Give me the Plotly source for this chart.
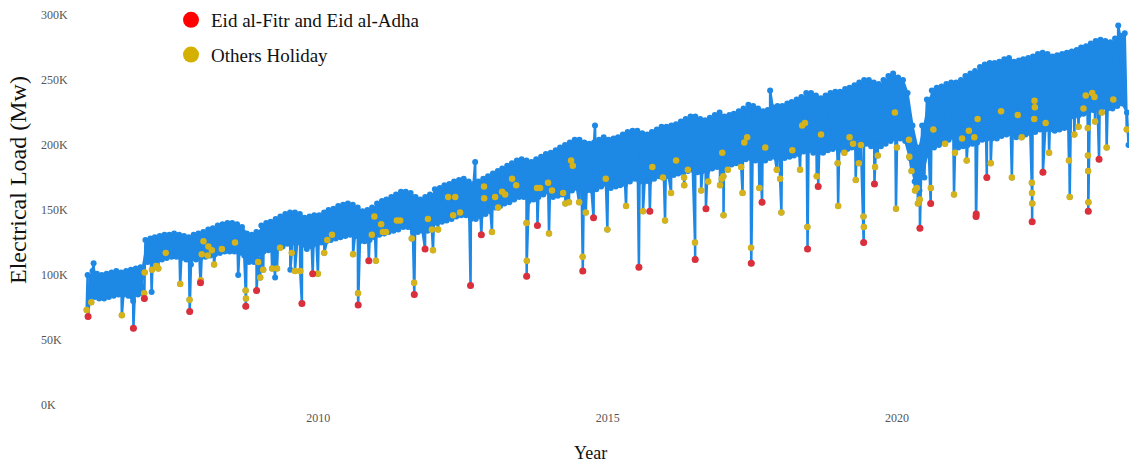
import pandas as pd
import plotly.graph_objects as go

# ---------------- data (values in thousand MW) ----------------
start_year = 2006
# monthly upper edge of the daily-load band, Jan..Dec for 2006..2023
band_high_k = [
    100, 103, 101, 100, 101, 102, 103, 102, 103, 104, 105, 106,  # 2006
    127, 128, 129, 130, 131, 131, 132, 131, 130, 129, 131, 132,  # 2007
    133, 135, 136, 138, 139, 140, 140, 139, 137, 132, 131, 133,  # 2008
    138, 140, 141, 143, 145, 147, 148, 148, 147, 144, 145, 146,  # 2009
    146, 148, 150, 151, 153, 154, 155, 154, 152, 149, 150, 152,  # 2010
    155, 157, 158, 160, 162, 164, 164, 163, 160, 158, 160, 162,  # 2011
    166, 167, 169, 170, 172, 173, 174, 172, 170, 172, 174, 176,  # 2012
    178, 180, 182, 184, 186, 188, 189, 188, 187, 189, 191, 193,  # 2013
    194, 196, 198, 200, 202, 204, 204, 202, 201, 202, 204, 206,  # 2014
    204, 205, 206, 208, 210, 211, 211, 209, 208, 210, 212, 214,  # 2015
    214, 215, 216, 218, 220, 222, 222, 220, 219, 221, 223, 225,  # 2016
    222, 223, 224, 226, 228, 231, 230, 228, 226, 227, 229, 230,  # 2017
    230, 232, 233, 235, 237, 240, 240, 238, 236, 238, 240, 241,  # 2018
    241, 243, 244, 246, 248, 250, 250, 248, 247, 250, 253, 255,  # 2019
    252, 250, 240, 215, 198, 215, 235, 242, 244, 245, 247, 248,  # 2020
    248, 250, 253, 255, 257, 260, 262, 263, 263, 264, 266, 267,  # 2021
    264, 265, 266, 267, 268, 270, 271, 270, 268, 269, 270, 271,  # 2022
    272, 273, 275, 276, 278, 280, 281, 280, 279, 282, 284, 286,  # 2023
]
# monthly lower edge of the band
band_low_k = [
    84, 83, 82, 82, 83, 84, 85, 85, 84, 80, 85, 86,              # 2006
    110, 111, 112, 112, 113, 114, 114, 113, 112, 108, 112, 113,  # 2007
    114, 115, 116, 117, 118, 118, 118, 117, 115, 110, 110, 112,  # 2008
    118, 119, 120, 121, 122, 124, 125, 125, 123, 120, 122, 124,  # 2009
    125, 126, 127, 128, 129, 130, 131, 130, 126, 126, 127, 129,  # 2010
    131, 132, 133, 134, 135, 137, 137, 133, 133, 134, 134, 136,  # 2011
    140, 141, 142, 143, 145, 146, 146, 143, 143, 145, 147, 149,  # 2012
    152, 153, 155, 156, 158, 160, 160, 157, 158, 160, 162, 164,  # 2013
    160, 161, 162, 163, 165, 167, 165, 165, 165, 166, 168, 170,  # 2014
    167, 168, 169, 170, 172, 174, 172, 172, 172, 174, 176, 178,  # 2015
    176, 177, 178, 179, 180, 181, 179, 180, 180, 182, 183, 184,  # 2016
    184, 185, 186, 187, 189, 190, 188, 188, 188, 190, 191, 192,  # 2017
    190, 191, 192, 193, 195, 196, 194, 194, 194, 196, 197, 198,  # 2018
    196, 197, 198, 199, 200, 201, 199, 199, 199, 201, 203, 205,  # 2019
    205, 203, 190, 172, 165, 175, 192, 198, 200, 202, 204, 206,  # 2020
    198, 199, 200, 201, 202, 204, 205, 205, 205, 207, 208, 209,  # 2021
    206, 207, 208, 209, 210, 212, 212, 212, 211, 212, 213, 214,  # 2022
    222, 223, 224, 225, 227, 229, 229, 228, 228, 230, 232, 225,  # 2023
]

# Eid al-Fitr and Eid al-Adha days
eid_dates = [
    "2006-01-10", "2006-10-23", "2006-12-31", "2007-10-13", "2007-12-20",
    "2008-10-01", "2008-12-08", "2009-09-20", "2009-11-27", "2010-09-10",
    "2010-11-16", "2011-08-30", "2011-11-06", "2012-08-19", "2012-10-26",
    "2013-08-08", "2013-10-15", "2014-07-28", "2014-10-04", "2015-07-17",
    "2015-09-24", "2016-07-06", "2016-09-12", "2017-06-25", "2017-09-01",
    "2018-06-15", "2018-08-21", "2019-06-04", "2019-08-11", "2020-05-24",
    "2020-07-31", "2021-05-13", "2021-05-14", "2021-07-20", "2022-05-02",
    "2022-07-09", "2023-04-21", "2023-06-28",
]
eid_k = [
    68, 59, 82, 72, 94, 76, 88, 78, 101, 77,
    111, 85, 120, 92, 131, 99, 138, 103, 144, 106,
    149, 112, 151, 109, 156, 120, 168, 125, 170, 136,
    155, 145, 147, 175, 141, 179, 149, 189,
]

# other holidays
other_dates = [
    "2006-01-01", "2006-01-30", "2006-08-11", "2006-12-30", "2007-01-02", "2007-02-17",
    "2007-03-18", "2007-03-29", "2007-05-15", "2007-08-14", "2007-10-12", "2007-12-22",
    "2007-12-28", "2008-01-08", "2008-02-04", "2008-02-08", "2008-03-01", "2008-03-15",
    "2008-05-03", "2008-07-25", "2008-09-30", "2008-10-02", "2008-12-18", "2008-12-31",
    "2009-01-19", "2009-03-16", "2009-04-16", "2009-05-05", "2009-07-18", "2009-08-07",
    "2009-09-09", "2009-12-30", "2010-02-08", "2010-02-27", "2010-03-29", "2010-08-09",
    "2010-09-09", "2010-12-05", "2010-12-21", "2010-12-31", "2011-02-02", "2011-02-13",
    "2011-03-04", "2011-05-12", "2011-06-02", "2011-08-14", "2011-08-29", "2011-11-24",
    "2011-12-19", "2011-12-26", "2012-01-27", "2012-03-31", "2012-05-01", "2012-05-14",
    "2012-06-14", "2012-11-12", "2012-11-13", "2013-01-01", "2013-01-21", "2013-02-09",
    "2013-03-06", "2013-03-25", "2013-05-08", "2013-06-03", "2013-08-07", "2013-08-09",
    "2013-10-12", "2013-11-01", "2013-12-21", "2013-12-27", "2014-01-15", "2014-03-26",
    "2014-04-09", "2014-05-02", "2014-05-15", "2014-05-26", "2014-07-05", "2014-07-27",
    "2014-08-16", "2014-12-20", "2014-12-30", "2015-04-27", "2015-08-12", "2015-10-10",
    "2015-12-16", "2015-12-29", "2016-02-05", "2016-03-08", "2016-04-27", "2016-04-28",
    "2016-05-21", "2016-07-05", "2016-08-13", "2016-09-26", "2016-12-10", "2016-12-21",
    "2016-12-24", "2016-12-31", "2017-01-01", "2017-01-28", "2017-04-22", "2017-05-01",
    "2017-05-12", "2017-05-30", "2017-06-24", "2017-08-15", "2017-09-21", "2017-12-03",
    "2017-12-24", "2018-01-01", "2018-03-11", "2018-04-29", "2018-05-12", "2018-05-30",
    "2018-06-14", "2018-08-12", "2018-09-08", "2018-12-22", "2018-12-25", "2019-02-02",
    "2019-03-07", "2019-03-29", "2019-04-15", "2019-05-05", "2019-05-18", "2019-06-03",
    "2019-06-05", "2019-08-15", "2019-09-01", "2019-12-18", "2019-12-25", "2019-12-31",
    "2020-03-16", "2020-03-18", "2020-04-01", "2020-04-23", "2020-05-05", "2020-05-11",
    "2020-05-23", "2020-08-01", "2020-08-17", "2020-10-30", "2020-12-25", "2020-12-31",
    "2021-02-14", "2021-03-15", "2021-03-29", "2021-05-02", "2021-05-23", "2021-08-14",
    "2021-10-18", "2021-12-25", "2022-01-31", "2022-02-25", "2022-04-30", "2022-05-01",
    "2022-05-03", "2022-05-15", "2022-05-17", "2022-05-19", "2022-07-26", "2022-08-17",
    "2022-12-20", "2022-12-25", "2023-01-23", "2023-02-18", "2023-03-22", "2023-04-05",
    "2023-04-18", "2023-04-19", "2023-04-20", "2023-04-22", "2023-05-16", "2023-05-30",
    "2023-06-03", "2023-07-15", "2023-08-15", "2023-09-26", "2023-12-20",
]
other_k = [
    73, 79, 69, 86, 102, 104,
    107, 105, 117, 93, 81, 96,
    116, 126, 115, 122, 119, 108,
    120, 125, 88, 82, 110, 98,
    104, 105, 105, 121, 117, 103,
    103, 101, 117, 127, 131, 116,
    86, 131, 145, 111, 139, 133,
    133, 142, 142, 128, 94, 143,
    135, 119, 135, 160, 146, 160,
    148, 168, 159, 133, 160, 152,
    164, 162, 174, 169, 140, 111,
    167, 167, 171, 132, 165, 163,
    155, 156, 188, 184, 156, 114,
    148, 174, 135, 153, 149, 183,
    175, 142, 163, 188, 175, 169,
    181, 125, 165, 172, 169, 174,
    194, 176, 146, 181, 183, 163,
    202, 206, 121, 167, 198, 181,
    174, 148, 196, 181, 215, 217,
    137, 176, 208, 186, 153, 194,
    206, 201, 173, 186, 200, 145,
    137, 183, 192, 225, 151, 198,
    204, 191, 180, 165, 167, 155,
    158, 167, 212, 201, 162, 194,
    205, 188, 211, 206, 220, 186,
    226, 175, 223, 206, 171, 163,
    155, 220, 234, 229, 217, 194,
    188, 160, 208, 214, 228, 238,
    213, 192, 180, 156, 240, 237,
    218, 225, 198, 235, 212,
]

# isolated non-holiday days that stand out of the band
extra_dates = ["2006-02-14", "2007-02-15", "2008-08-14", "2009-04-04", "2009-07-09",
               "2012-09-17", "2014-10-13", "2017-10-22", "2023-10-27", "2023-12-31"]
extra_k = [109, 87, 100, 98, 104, 187, 215, 242, 292, 200]

y_ticks = [0, 50, 100, 150, 200, 250, 300]
x_ticks = ["2010-01-01", "2015-01-01", "2020-01-01"]
x_tick_text = ["2010", "2015", "2020"]

# ---------------- build the daily series ----------------
band_dates, band_vals, mid_dates = [], [], []
for i, (hi, lo) in enumerate(zip(band_high_k, band_low_k)):
    yr, mo = start_year + i // 12, i % 12 + 1
    band_dates += [pd.Timestamp(yr, mo, 7), pd.Timestamp(yr, mo, 21)]
    band_vals += [hi * 1000, lo * 1000]
    mid_dates.append(pd.Timestamp(yr, mo, 14))

series = pd.DataFrame({
    "date": band_dates
    + list(pd.to_datetime(eid_dates))
    + list(pd.to_datetime(other_dates))
    + list(pd.to_datetime(extra_dates)),
    "load": band_vals
    + [v * 1000 for v in eid_k]
    + [v * 1000 for v in other_k]
    + [v * 1000 for v in extra_k],
}).sort_values("date", kind="stable")

BLUE = "#1e88e5"
RED_DOT = "#dc2f3c"
GOLD_DOT = "#d6b31a"
SERIF = "Liberation Serif, Times New Roman, serif"

fig = go.Figure()
# dense body of the daily band (area between the monthly edges)
fig.add_trace(go.Scatter(
    x=mid_dates, y=[v * 1000 for v in band_high_k], mode="lines",
    line=dict(color=BLUE, width=0), showlegend=False, hoverinfo="skip",
))
fig.add_trace(go.Scatter(
    x=mid_dates, y=[v * 1000 for v in band_low_k], mode="lines",
    line=dict(color=BLUE, width=0), fill="tonexty", fillcolor=BLUE,
    showlegend=False, hoverinfo="skip",
))
# daily load line
fig.add_trace(go.Scatter(
    x=series["date"], y=series["load"], mode="lines+markers",
    line=dict(color=BLUE, width=2.5), marker=dict(color=BLUE, size=6),
    showlegend=False, hoverinfo="skip",
))
fig.add_trace(go.Scatter(
    x=pd.to_datetime(other_dates), y=[v * 1000 for v in other_k], mode="markers",
    marker=dict(color=GOLD_DOT, size=6.5), showlegend=False,
))
fig.add_trace(go.Scatter(
    x=pd.to_datetime(eid_dates), y=[v * 1000 for v in eid_k], mode="markers",
    marker=dict(color=RED_DOT, size=7), showlegend=False,
))
# legend entries
fig.add_trace(go.Scatter(
    x=[None], y=[None], mode="markers", name="Eid al-Fitr and Eid al-Adha",
    marker=dict(color="#ff0000", size=16), legendgroup="a",
))
fig.add_trace(go.Scatter(
    x=[None], y=[None], mode="markers", name="Others Holiday",
    marker=dict(color="#d4b000", size=16), legendgroup="b",
))

L, R, T, B = 80, 0, 8, 61
W, H = 1129, 466
pw, ph = W - L - R, H - T - B
ymax = 397 / 1.3 * 1000

annotations = []
for v in y_ticks:
    annotations.append(dict(
        x=(39 - L) / pw, xref="paper", y=v * 1000, yref="y",
        text=f"{v}K", showarrow=False, xanchor="left", yanchor="middle",
        font=dict(family=SERIF, size=12, color="#555555"),
    ))
annotations.append(dict(
    x=(18 - L) / pw, xref="paper", y=(405 - 180) / ph, yref="paper",
    text="Electrical Load (Mw)", textangle=-90, showarrow=False,
    xanchor="center", yanchor="middle",
    font=dict(family=SERIF, size=24, color="#111111"),
))
annotations.append(dict(
    x=(590 - L) / pw, xref="paper", y=(405 - 453) / ph, yref="paper",
    text="Year", showarrow=False, xanchor="center", yanchor="middle",
    font=dict(family=SERIF, size=18, color="#111111"),
))

fig.update_layout(
    width=W, height=H, autosize=False,
    margin=dict(l=L, r=R, t=T, b=B, pad=0),
    paper_bgcolor="white", plot_bgcolor="white",
    font=dict(family=SERIF),
    annotations=annotations,
    legend=dict(
        x=(171 - L) / pw, y=1 + 7 / ph, xanchor="left", yanchor="top",
        font=dict(family=SERIF, size=19, color="#111111"),
        bgcolor="rgba(0,0,0,0)", tracegroupgap=7, itemsizing="trace",
    ),
    xaxis=dict(
        type="date", range=["2005-11-20", "2024-01-03"],
        tickvals=x_ticks, ticktext=x_tick_text,
        showgrid=False, zeroline=False, showline=False, ticks="",
        ticklabelstandoff=4,
        tickfont=dict(family=SERIF, size=12, color="#555555"),
    ),
    yaxis=dict(
        range=[0, ymax], tickvals=[v * 1000 for v in y_ticks],
        showticklabels=False, showgrid=False, zeroline=False, showline=False, ticks="",
    ),
)

fig.write_html(
    "out.html",
    config={"displayModeBar": False},
    post_script="document.body.style.margin='0';document.body.style.overflow='hidden';",
)
